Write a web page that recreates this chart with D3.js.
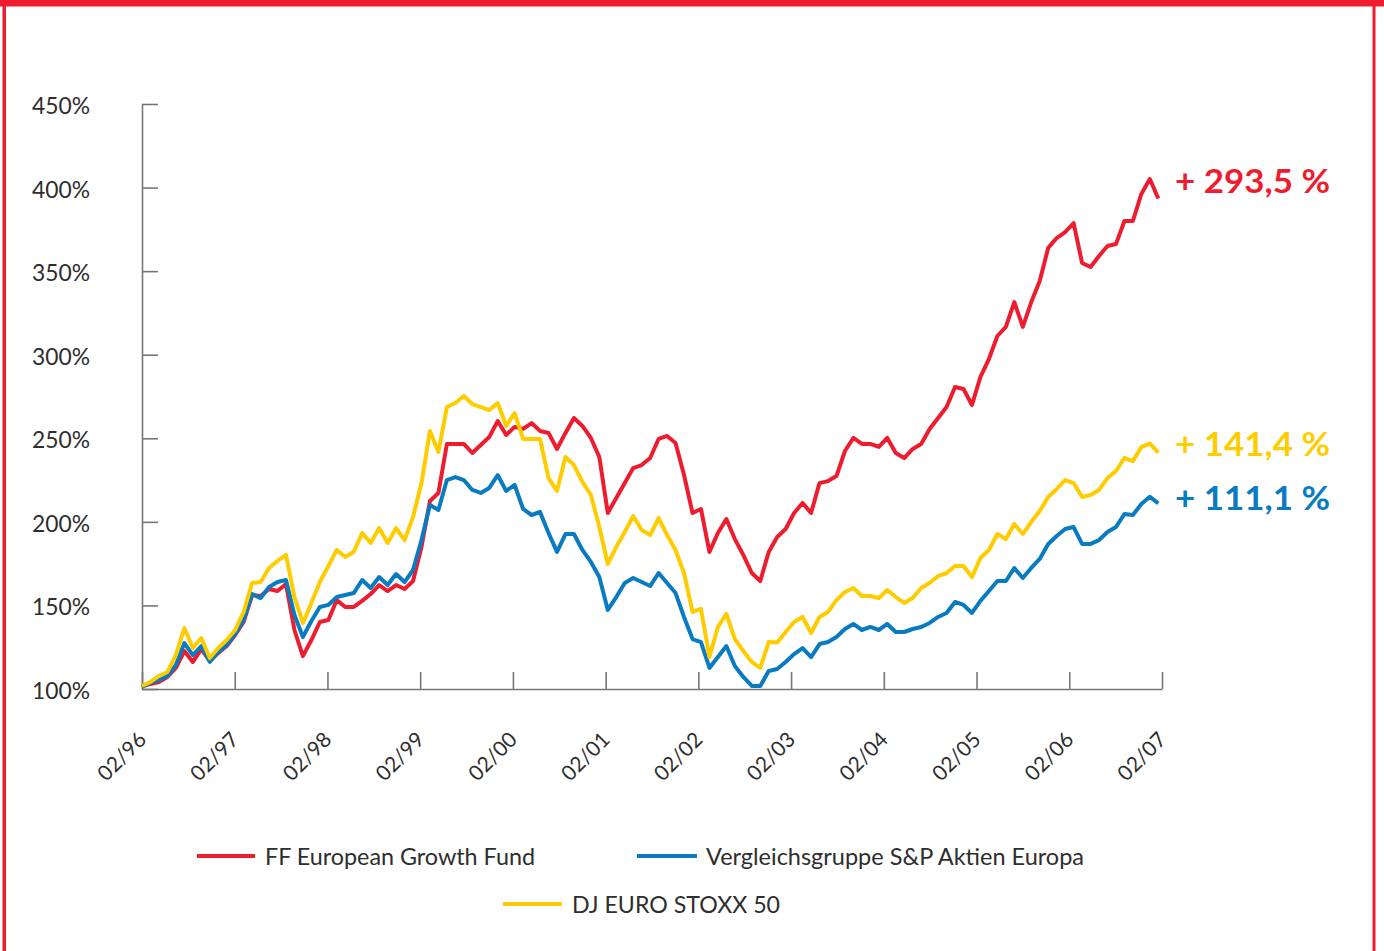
<!DOCTYPE html>
<html>
<head>
<meta charset="utf-8">
<script src="https://cdn.jsdelivr.net/npm/d3@7"></script>
<style>
  html, body { margin: 0; padding: 0; background: #fff; }
  svg { display: block; }
  text { font-family: Lato, "Noto Sans", sans-serif; }
</style>
</head>
<body>
<svg id="chart" width="1384" height="951"></svg>
<script>
// ---------- data ----------
const tickLabels = ["02/96","02/97","02/98","02/99","02/00","02/01","02/02","02/03","02/04","02/05","02/06","02/07"];
const seriesNames = ["FF European Growth Fund", "Vergleichsgruppe S&P Aktien Europa", "DJ EURO STOXX 50"];
const endLabels = ["+ 293,5 %", "+ 141,4 %", "+ 111,1 %"];
const yTickValues = [100, 150, 200, 250, 300, 350, 400, 450];

// 121 evenly spaced observations, first at 02/96, last shortly before 02/07 (years since 02/96)
const lastPointYear = 10.96;
const pointYears = d3.range(121).map(i => i * lastPointYear / 120);

const fundValues = [
 101.8,103.0,104.2,107.2,112.6,122.7,116.2,123.9,116.8,121.5,125.7,132.3,140.1,156.2,155.6,159.8,158.6,162.8,135.3,119.7,
 129.3,140.1,141.3,153.2,149.1,149.1,152.7,156.8,162.2,158.6,162.2,159.8,164.6,185.0,212.5,217.3,246.6,246.6,246.6,241.2,
 246.0,250.8,260.3,252.0,256.8,255.6,259.1,254.4,253.2,243.6,253.2,262.1,257.4,250.2,238.8,205.3,214.3,223.2,232.2,234.0,
 238.2,249.6,251.4,247.2,228.0,205.3,207.7,182.0,193.3,201.7,189.7,180.2,169.4,164.6,182.0,190.9,195.7,205.3,211.3,205.3,
 223.2,224.4,227.4,242.4,250.2,246.6,246.6,244.8,250.2,241.2,238.2,243.6,246.6,255.6,262.1,268.7,280.7,279.5,269.9,286.7,
 297.4,311.2,316.6,331.5,316.6,331.5,344.1,363.9,369.8,373.4,378.8,354.9,352.5,359.1,365.0,366.2,380.0,380.0,396.2,405.1,
 393.5
];
const peerValues = [
 101.2,103.6,105.4,107.8,114.4,127.5,120.3,125.7,116.2,122.1,126.3,132.9,141.3,156.8,154.4,161.0,164.0,165.2,144.3,131.1,
 140.7,149.1,150.3,155.0,156.2,157.4,165.2,160.4,167.0,162.2,168.8,164.0,171.2,189.1,210.1,207.1,225.0,226.8,225.0,219.1,
 217.3,220.3,228.0,218.5,222.1,207.7,204.1,205.9,193.3,182.0,192.7,192.7,183.2,176.0,167.0,147.3,155.0,163.4,166.4,164.0,
 161.6,169.4,163.4,157.4,143.1,129.9,128.1,112.6,119.1,125.7,113.8,107.2,101.8,101.8,110.8,112.0,116.2,120.9,124.5,119.1,
 126.9,128.1,131.1,135.9,138.9,135.3,137.1,135.3,138.9,134.1,134.1,135.9,137.1,139.5,143.1,145.5,152.1,150.3,145.5,152.7,
 158.6,164.6,164.6,172.4,166.4,172.4,177.8,186.8,191.5,195.7,196.9,186.8,186.8,189.1,193.9,196.9,204.7,204.1,210.7,215.0,
 211.1
];
const stoxxValues = [
 101.8,104.2,107.8,110.2,120.3,136.5,124.5,130.5,118.5,124.5,129.3,135.3,146.1,163.4,164.0,172.4,176.6,180.2,155.0,139.5,
 151.5,164.0,173.6,183.2,179.0,182.0,193.3,187.4,196.3,187.4,196.3,189.1,202.9,223.2,254.4,241.8,268.7,271.1,275.3,270.5,
 268.7,266.9,271.1,257.4,265.1,249.6,249.6,249.6,226.2,218.5,238.8,234.0,223.9,216.1,196.9,174.8,185.0,193.9,203.5,195.1,
 192.1,202.3,192.1,183.2,169.4,146.1,147.9,119.1,137.1,144.9,129.9,122.7,116.2,112.6,128.1,127.8,134.1,140.1,143.1,133.5,
 143.1,146.1,153.2,158.0,160.4,155.6,155.6,154.4,159.2,155.0,151.5,154.4,160.4,163.4,167.6,169.4,173.6,173.6,167.0,178.4,
 183.2,192.7,189.7,198.7,192.7,199.9,206.5,214.9,219.7,225.0,223.2,214.9,216.1,219.1,226.2,230.4,238.2,236.4,244.8,246.8,
 241.4
];

// ---------- drawing ----------
const colors = { red: "#ED1C2E", blue: "#0A7BC1", yellow: "#FFCC00", axis: "#777777", text: "#2E2E2E" };
const svg = d3.select("#chart");

// frame
svg.append("rect").attr("x", 0).attr("y", 0).attr("width", 1384).attr("height", 6.5).attr("fill", colors.red);
svg.append("rect").attr("x", 2.5).attr("y", 0).attr("width", 3.5).attr("height", 951).attr("fill", colors.red);
svg.append("rect").attr("x", 1372.5).attr("y", 0).attr("width", 3).attr("height", 951).attr("fill", colors.red);

const x = d3.scaleLinear().domain([0, 11]).range([142, 1162]);
const y = d3.scaleLinear().domain([100, 450]).range([689, 104]);

// y axis
const yAxis = d3.axisLeft(y)
  .tickValues(yTickValues)
  .tickSizeInner(-16)
  .tickSizeOuter(0)
  .tickPadding(52)
  .tickFormat(d => d + "%");
const gy = svg.append("g").attr("transform", "translate(142,0)").call(yAxis);
gy.select(".domain").attr("stroke", colors.axis).attr("stroke-width", 1.6);
gy.selectAll(".tick line").attr("stroke", colors.axis).attr("stroke-width", 1.6);
gy.selectAll(".tick text")
  .attr("fill", colors.text)
  .attr("font-size", 22.5)
  .attr("font-family", "Lato, sans-serif")
  .attr("textLength", 58)
  .attr("lengthAdjust", "spacingAndGlyphs")
  .attr("dy", "0.42em");

// x axis
const xAxis = d3.axisBottom(x)
  .tickValues(d3.range(tickLabels.length))
  .tickSizeInner(-17)
  .tickSizeOuter(0)
  .tickFormat(i => tickLabels[i]);
const gx = svg.append("g").attr("transform", "translate(0,689)").call(xAxis);
gx.select(".domain").attr("stroke", colors.axis).attr("stroke-width", 1.6);
gx.selectAll(".tick line").attr("stroke", colors.axis).attr("stroke-width", 1.6);
gx.selectAll(".tick text")
  .attr("fill", colors.text)
  .attr("font-size", 21)
  .attr("font-family", "Lato, sans-serif")
  .attr("text-anchor", "end")
  .attr("y", 0).attr("dy", 0)
  .attr("transform", "translate(5,52) rotate(-45)");

// lines
const line = d3.line()
  .x((d, i) => x(pointYears[i]))
  .y(d => y(d));

const series = [
  { values: fundValues, color: colors.red },
  { values: peerValues, color: colors.blue },
  { values: stoxxValues, color: colors.yellow }
];
series.forEach(s => {
  svg.append("path")
    .datum(s.values)
    .attr("d", line)
    .attr("fill", "none")
    .attr("stroke", s.color)
    .attr("stroke-width", 4)
    .attr("stroke-linejoin", "round")
    .attr("stroke-linecap", "butt");
});

// end labels
const endInfo = [
  { label: endLabels[0], color: colors.red, y: 193 },
  { label: endLabels[1], color: colors.yellow, y: 456 },
  { label: endLabels[2], color: colors.blue, y: 510 }
];
endInfo.forEach(e => {
  svg.append("text")
    .attr("x", 1175).attr("y", e.y)
    .attr("fill", e.color)
    .attr("font-size", 32)
    .attr("font-weight", 700)
    .attr("textLength", 155)
    .attr("lengthAdjust", "spacingAndGlyphs")
    .text(e.label);
});

// legend
const legend = [
  { name: seriesNames[0], color: colors.red, x1: 197, x2: 255, ly: 856, tx: 265, tw: 270 },
  { name: seriesNames[1], color: colors.blue, x1: 637, x2: 697, ly: 856, tx: 706, tw: 378 },
  { name: seriesNames[2], color: colors.yellow, x1: 503, x2: 562, ly: 904, tx: 572, tw: 208 }
];
legend.forEach(l => {
  svg.append("line")
    .attr("x1", l.x1).attr("x2", l.x2).attr("y1", l.ly).attr("y2", l.ly)
    .attr("stroke", l.color).attr("stroke-width", 4);
  svg.append("text")
    .attr("x", l.tx).attr("y", l.ly + 9)
    .attr("fill", colors.text)
    .attr("font-size", 23)
    .attr("textLength", l.tw)
    .attr("lengthAdjust", "spacingAndGlyphs")
    .text(l.name);
});
</script>
</body>
</html>
